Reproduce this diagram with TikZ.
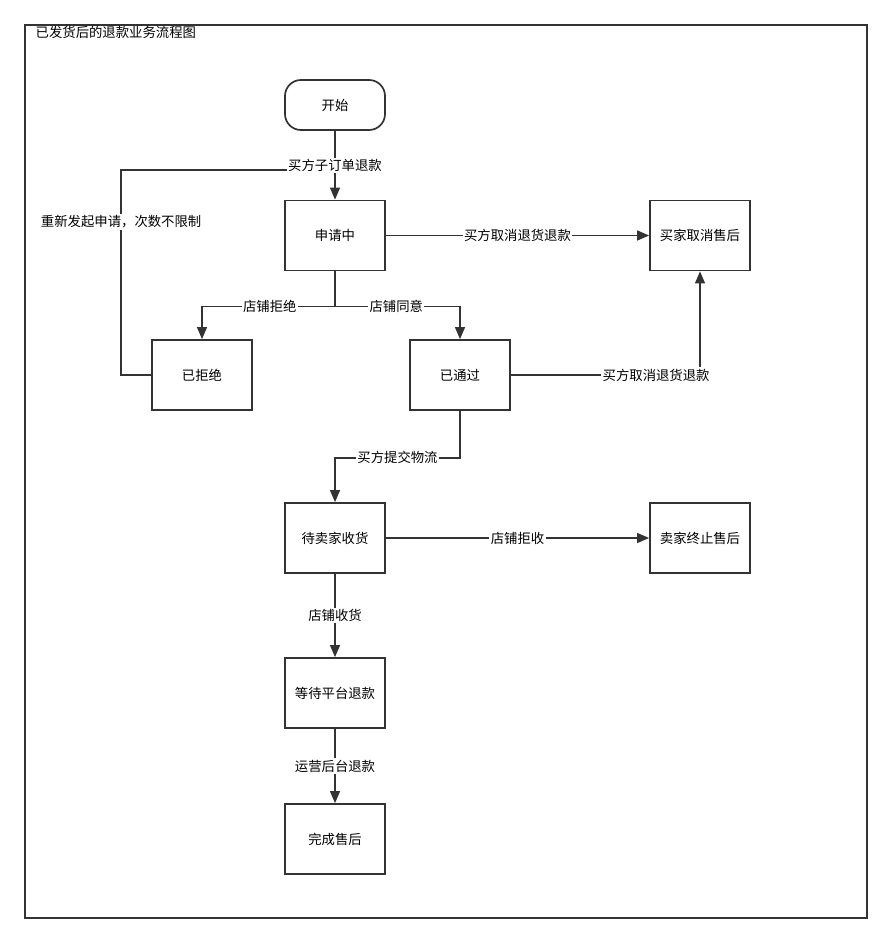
\documentclass[tikz,border=0pt]{standalone}
\usepackage{fontspec}
\usepackage{tikz}
\setmainfont{Noto Sans CJK SC}
\usetikzlibrary{arrows.meta}
\definecolor{linegray}{RGB}{51,51,51}

\begin{document}
\begin{tikzpicture}[
  x=0.025cm, y=-0.025cm,
  proc/.style={rectangle, draw=linegray, line width=1.2pt, fill=white,
    minimum width=2.5cm, minimum height=1.75cm, align=center, font=\fontsize{9.5}{11}\selectfont},
  term/.style={proc, rounded corners=0.4cm, minimum height=1.25cm},
  arrow/.style={-{Triangle[length=8.5pt,width=7pt]}, line width=1.1pt, color=linegray},
  link/.style={line width=1.1pt, color=linegray},
  lbl/.style={fill=white, inner sep=1pt, text=black, font=\fontsize{9.5}{11}\selectfont}
]
  \useasboundingbox (0,0) rectangle (893,944);
  \draw[line width=1.3pt, linegray] (25,25) rectangle (867,918);
  \node[anchor=north west, inner sep=1pt, font=\fontsize{9.5}{11}\selectfont] (title) at (34,25) {已发货后的退款业务流程图};

  \node[term] (start) at (335,105) {开始};
  \node[proc] (apply) at (335,235.5) {申请中};
  \node[proc] (cancel) at (700,235.5) {买家取消售后};
  \node[proc] (rejected) at (202,375) {已拒绝};
  \node[proc] (approved) at (460,375) {已通过};
  \node[proc] (waitseller) at (335,538) {待卖家收货};
  \node[proc] (terminate) at (700,538) {卖家终止售后};
  \node[proc] (waitrefund) at (335,693) {等待平台退款};
  \node[proc] (done) at (335,839) {完成售后};
  \coordinate (join) at (335,170);

  % retry loop first, so the start label lies on top of it
  \draw[link] (rejected.west) -- ++(-30,0) |- (join) node[lbl, pos=0.373] {重新发起申请，次数不限制};
  \draw[arrow] (start) -- (apply) node[lbl, midway] {买方子订单退款};
  \draw[arrow] (apply) -- (cancel) node[lbl, midway] {买方取消退货退款};
  \draw[arrow] (apply.south) -- ++(0,35) -| (rejected.north) node[lbl, pos=0.245] {店铺拒绝};
  \draw[arrow] (apply.south) -- ++(0,35) -| (approved.north) node[lbl, pos=0.245] {店铺同意};
  \draw[arrow] (approved.east) -| (cancel.south) node[lbl, pos=0.384] {买方取消退货退款};
  \draw[arrow] (approved.south) -- ++(0,47) -| (waitseller.north) node[lbl, pos=0.25] {买方提交物流};
  \draw[arrow] (waitseller) -- (terminate) node[lbl, midway] {店铺拒收};
  \draw[arrow] (waitseller) -- (waitrefund) node[lbl, midway] {店铺收货};
  \draw[arrow] (waitrefund) -- (done) node[lbl, midway] {运营后台退款};
\end{tikzpicture}
\end{document}
